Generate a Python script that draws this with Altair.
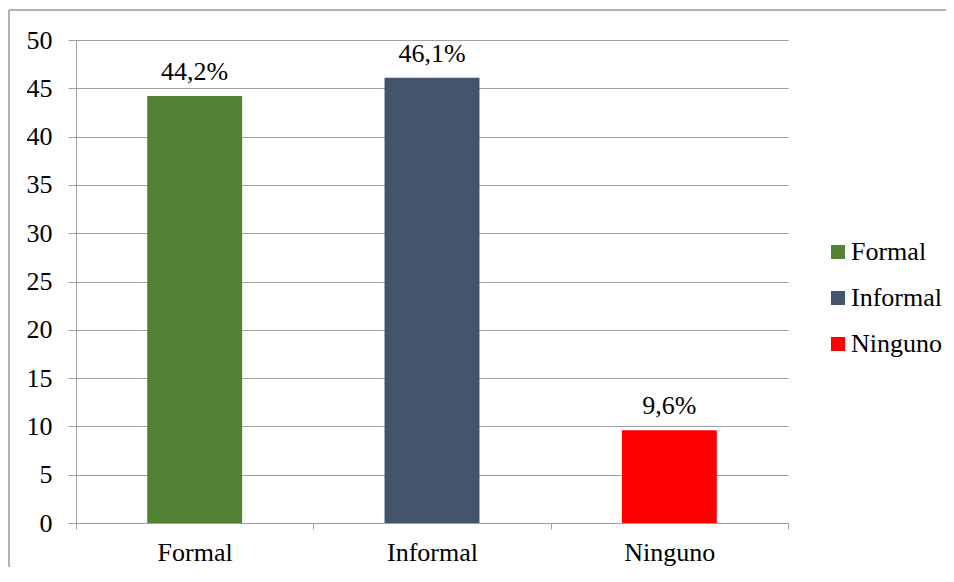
import altair as alt
import pandas as pd

categories = ["Formal", "Informal", "Ninguno"]
values = [44.2, 46.1, 9.6]
labels = ["44,2%", "46,1%", "9,6%"]
colors = ["#548235", "#44546A", "#FF0000"]
y_ticks = [0, 5, 10, 15, 20, 25, 30, 35, 40, 45, 50]

df = pd.DataFrame({"cat": categories, "val": values, "lab": labels})

FONT = "Liberation Serif"
FS = 26
GRAY = "#a0a0a0"

x = alt.X(
    "cat:N", sort=categories, title=None,
    scale=alt.Scale(paddingInner=0, paddingOuter=0),
    axis=alt.Axis(labelAngle=0, tickBand="extent", tickSize=6, labelPadding=10,
                  domainColor=GRAY, tickColor=GRAY, labelFont=FONT, labelFontSize=FS,
                  labelColor="black", grid=False),
)
y = alt.Y(
    "val:Q", title=None, scale=alt.Scale(domain=[0, 50]),
    axis=alt.Axis(values=y_ticks, tickSize=8, labelPadding=16, domainColor=GRAY,
                  tickColor=GRAY, gridColor=GRAY, labelFont=FONT, labelFontSize=FS,
                  labelColor="black"),
)

bars = alt.Chart(df).mark_bar(width=alt.RelativeBandSize(0.4)).encode(
    x=x, y=y,
    color=alt.Color(
        "cat:N",
        scale=alt.Scale(domain=categories, range=colors),
        legend=alt.Legend(
            title=None, orient="none", legendX=749, legendY=199,
            symbolType="square", symbolSize=196, symbolStrokeWidth=0,
            labelFont=FONT, labelFontSize=FS, labelColor="black",
            rowPadding=20, labelOffset=0,
        ),
    ),
)

text = alt.Chart(df).mark_text(baseline="bottom", dy=-11, font=FONT, fontSize=FS,
                               color="black").encode(x=x, y=y, text="lab:N")

frame_data = alt.Data(values=[{"a": 1}])
frame_top = alt.Chart(frame_data).mark_rule(
    stroke="#999999", strokeWidth=1.5, clip=False
).encode(x=alt.value(-67), x2=alt.value(875), y=alt.value(-30))
frame_left = alt.Chart(frame_data).mark_rule(
    stroke="#999999", strokeWidth=1.5, clip=False
).encode(x=alt.value(-67), y=alt.value(-30), y2=alt.value(560))

chart = alt.layer(frame_top, frame_left, bars, text).properties(
    width=712, height=483,
    autosize=alt.AutoSizeParams(type="none"),
    padding={"left": 68, "top": 32, "right": 158, "bottom": 44},
).configure_view(strokeWidth=0)

chart.save("out.html", embed_options={"renderer": "svg", "actions": False})
